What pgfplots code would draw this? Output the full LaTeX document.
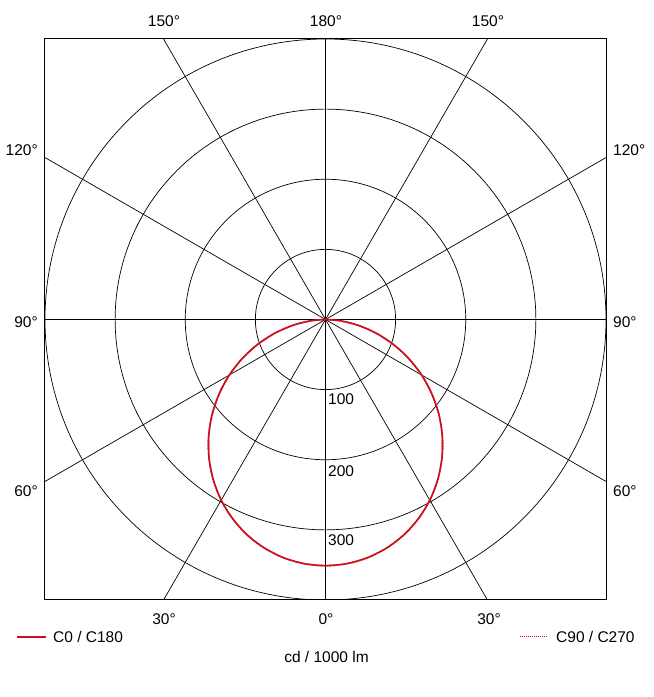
\documentclass[border=0pt]{standalone}
\usepackage{fontspec}
\setmainfont{Liberation Sans}
\usepackage{pgfplots}
\usepackage{pgfplotstable}
\pgfplotsset{compat=1.18}
\definecolor{curvered}{RGB}{204,16,32}
\pgfplotstableread{
ang cd
-90 0
-85 21.2
-80 46.9
-75 74.2
-70 102.2
-65 130.4
-60 158.2
-55 185.2
-50 211.2
-45 235.6
-40 258.3
-35 279.0
-30 297.5
-25 313.4
-20 326.8
-15 337.3
-10 344.9
-5 349.5
0 351.0
5 349.5
10 344.9
15 337.3
20 326.8
25 313.4
30 297.5
35 279.0
40 258.3
45 235.6
50 211.2
55 185.2
60 158.2
65 130.4
70 102.2
75 74.2
80 46.9
85 21.2
90 0
}\cZero
\newcommand{\IP}[2]{({#1pt},{697pt-#2pt})}
\begin{document}
\begin{tikzpicture}[every node/.style={font=\fontsize{15.5}{18}\selectfont, inner sep=0pt}]
\path[use as bounding box] (0,0) rectangle (654pt,697pt);
% grid
\begin{scope}
\clip \IP{45}{39} rectangle \IP{606}{600};
\foreach \r in {70.125,140.25,210.375,280.5}
  \draw[line width=0.7pt] \IP{325.5}{319.5} circle[radius=\r pt];
\foreach \a in {0,30,...,330}
  \draw[line width=0.7pt] \IP{325.5}{319.5} -- ++(\a:620pt);
\end{scope}
\begin{axis}[
  at={(45pt,97pt)}, anchor=south west,
  width=561pt, height=561pt, scale only axis,
  xmin=-400, xmax=400, ymin=-400, ymax=400,
  xtick=\empty, ytick=\empty,
  axis line style={line width=1pt},
]
\addplot[curvered, densely dotted, line width=1.6pt, smooth] table[x expr={\thisrowno{1}*sin(\thisrowno{0})}, y expr={-\thisrowno{1}*cos(\thisrowno{0})}] {\cZero};
\addplot[curvered, line width=1.6pt, smooth] table[x expr={\thisrowno{1}*sin(\thisrowno{0})}, y expr={-\thisrowno{1}*cos(\thisrowno{0})}] {\cZero};
\end{axis}
% radius labels
\node[anchor=west] at \IP{328}{399} {100};
\node[anchor=west] at \IP{328}{471} {200};
\node[anchor=west] at \IP{328}{540} {300};
% angle labels
\node at \IP{164}{21} {150°};
\node at \IP{326}{21} {180°};
\node at \IP{488}{21} {150°};
\node[anchor=east] at \IP{38}{150} {120°};
\node[anchor=west] at \IP{613}{150} {120°};
\node[anchor=east] at \IP{38}{322} {90°};
\node[anchor=west] at \IP{613}{322} {90°};
\node[anchor=east] at \IP{38}{491} {60°};
\node[anchor=west] at \IP{613}{491} {60°};
\node at \IP{164}{619} {30°};
\node at \IP{326}{619} {0°};
\node at \IP{489}{619} {30°};
% legend
\draw[curvered, line width=1.6pt] \IP{17}{637} -- \IP{46}{637};
\node[anchor=west] at \IP{53}{637} {C0 / C180};
\draw[curvered, densely dotted, line width=1pt] \IP{520}{637} -- \IP{548}{637};
\node[anchor=west] at \IP{556}{637} {C90 / C270};
\node at \IP{326.5}{657} {cd / 1000 lm};
\end{tikzpicture}
\end{document}
